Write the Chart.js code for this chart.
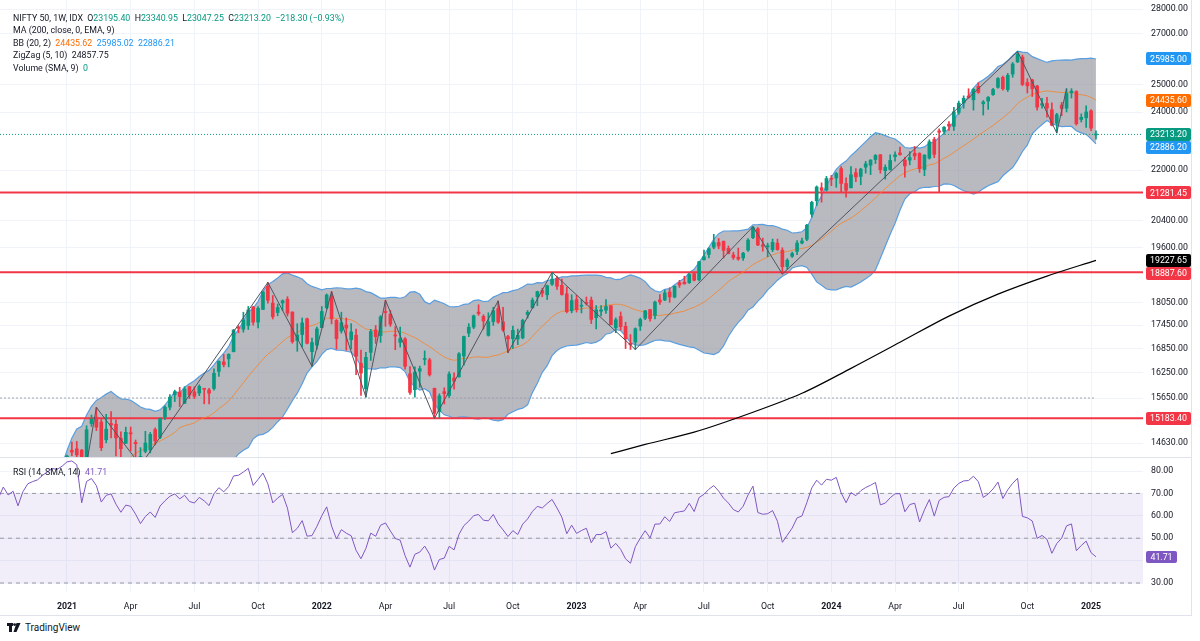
<!DOCTYPE html>
<html><head><meta charset="utf-8">
<script src="https://cdn.jsdelivr.net/npm/chart.js@4.4.1/dist/chart.umd.min.js"></script>
<style>
html,body{margin:0;padding:0;background:#fff;width:1200px;height:641px;overflow:hidden;font-family:Roboto,"Open Sans",sans-serif;}
#wrap{position:relative;width:1200px;height:641px;}
canvas{position:absolute;left:0;}
#pc{top:0;}
#rc{top:458px;}
.leg{position:absolute;left:13px;font-size:8.8px;color:#131722;white-space:nowrap;line-height:12.6px;}
.g{color:#089981}.r{color:#f23645}.o{color:#ff6d00}.b{color:#2196f3}.p{color:#7e57c2}
.ln{position:absolute;background:#e0e3eb;}
#logo{position:absolute;left:7px;top:622px;font-size:10px;color:#131722;display:flex;align-items:center;gap:4px;}
</style></head>
<body><div id="wrap">
<canvas id="pc" width="1200" height="457"></canvas>
<canvas id="rc" width="1200" height="158"></canvas>
<div class="ln" style="left:0;top:457px;width:1192px;height:1px"></div>
<div class="ln" style="left:1191px;top:0;width:1px;height:616px"></div>
<div class="ln" style="left:0;top:615px;width:1192px;height:1px"></div>
<div class="leg" id="legMain" style="top:11.5px"></div>
<div class="leg" id="legRsi" style="top:465.5px"></div>
<div id="logo"><svg width="14" height="9" viewBox="0 0 14 9"><rect x="0" y="0" width="6" height="3" fill="#131722"/><rect x="2" y="0" width="3" height="9" fill="#131722"/><circle cx="7.6" cy="1.6" r="1.4" fill="#131722"/><polygon points="9.5,0 13.5,0 9.5,9 6.5,9" fill="#131722"/></svg><span>TradingView</span></div>
</div>
<script>
// ---------------- DATA (weekly candles, week 0 = week of 4 Jan 2021) ----------------
const FIRST_WEEK = -31; // week of 1 Jun 2020
const opens = [
 9726,10326,9919,10319,10311,10723,10851,10999,11225,10947,11271,11248,11432,11778,11360,11540,11503,11140,11487,11973,11786,11937,11697,12399,12780,12906,13062,13265,13547,13865,13815,
 14104,14474,14505,14477,13758,15064,15208,15100,14702,15064,15049,14737,14628,14837,14644,14306,14449,14481,14928,14756,15211,15437,15725,15791,15525,15916,15794,15766,15877,15840,15874,16287,16518,16593,16775,17401,17347,17443,17932,17531,17867,18500,18035,17784,18040,18141,17796,17052,17209,17619,16774,16937,
 17388,17913,18236,17575,17301,17456,17076,17193,16481,15868,16757,17329,17181,17810,17740,17184,17009,17097,16227,15846,16290,16579,16570,15877,15335,15800,15710,16127,16152,16662,17243,17401,17797,17682,17188,17546,17890,17541,17156,17102,17095,17122,17736,17910,18211,18376,18262,18552,18719,18524,18289,17831,
 18131,17953,18034,18118,17650,17819,17847,17965,17383,17680,17421,16983,17016,17428,17635,17863,17707,18124,18121,18339,18201,18595,18612,18595,18849,18682,19246,19400,19612,19748,19784,19576,19384,19320,19298,19525,19891,20156,19678,19622,19539,19731,19521,19053,19346,19486,19731,19844,20602,21019,21434,21365,
 21727,21747,22053,21570,21433,21921,21800,22103,22169,22357,22517,21990,22028,22455,22579,22339,22337,22570,22561,22028,22405,23039,23337,23320,23570,23499,23987,24330,24586,24446,24944,24302,24400,24636,24908,25283,24823,25406,25872,26061,25085,25186,24956,24252,24315,24087,23605,24253,24140,24703,24753,23738,23797,
 24045,23195.40
];
const highs = [
 10177,10328,10272,10554,10632,10848,10934,11240,11342,11257,11373,11460,11687,11794,11493,11618,11535,11428,11939,12025,12018,11942,12280,12769,12964,13146,13280,13579,13773,13899,14024,
 14367,14653,14666,14491,15014,15257,15432,15176,15273,15336,15145,14877,14984,14985,14697,14531,14890,14864,14966,15189,15469,15733,15835,15901,15915,15925,15915,15962,15879,15881,16350,16544,16702,16722,17340,17437,17793,17947,17948,17941,18350,18604,18242,18012,18123,18210,17806,17490,17640,17639,17119,17400,
 17945,18286,18351,17600,17794,17640,17491,17352,16815,16757,17344,17442,17703,18115,17843,17414,17401,17132,16404,16400,16415,16793,16610,15886,15749,15891,16275,16249,16752,17172,17490,17719,17992,17727,17778,17925,18096,17920,17188,17429,17348,17608,17838,18176,18362,18443,18529,18888,18781,18697,18473,18265,
 18252,18141,18202,18202,17972,17972,18134,17973,17644,17800,17529,17207,17381,17638,17842,17864,18089,18267,18389,18458,18508,18663,18777,18865,18887,19201,19523,19595,19991,19867,19795,19645,19466,19584,19458,19867,20222,20196,19880,19730,19850,19849,19593,19276,19464,19805,19876,20292,21006,21492,21593,21801,
 21834,21929,22124,21751,22127,22053,22069,22297,22353,22526,22526,22181,22516,22619,22776,22428,22625,22795,22588,22526,23026,23111,23411,23490,23667,24174,24401,24592,24855,24862,25078,24419,24563,24867,25269,25334,25433,25849,26277,26135,25234,25212,24978,24498,24537,24336,23956,24354,24858,24857,24781,23938,24226,
 24089,23340.95
];
const lows = [
 9704,9544,9728,10194,10224,10676,10562,10918,10983,10882,11111,11248,11421,11303,11185,11414,10790,11055,11347,11661,11736,11535,11557,12367,12730,12790,12962,13217,13511,13132,13778,
 13954,14357,14222,13596,13661,15000,14906,14467,14635,14745,14350,14264,14617,14460,14248,14151,14417,14416,14592,14725,15152,15372,15566,15450,15525,15636,15636,15705,15514,15513,15834,16162,16396,16395,16765,17254,17269,17338,17452,17379,17864,18034,17613,17697,17836,17689,16985,16782,16892,16966,16410,16833,
 17384,17880,17485,16837,17244,16810,16839,16203,15711,15671,16555,16980,17006,17423,17420,16824,16889,16340,15736,15671,15903,16444,16172,15183,15191,15511,15661,15859,16143,16439,17154,17359,17710,17346,17167,17445,17497,17292,16748,16855,16950,17098,17637,17900,17969,18209,18133,18519,18410,18255,17775,17775,
 17796,17774,17981,17493,17353,17695,17762,17455,17255,17325,16850,16828,16828,17313,17597,17553,17612,17999,18102,18060,18178,18465,18556,18575,18647,18646,19234,19300,19562,19563,19296,19413,19254,19230,19223,19488,19865,19657,19492,19333,19480,19518,18837,18973,19309,19389,19704,19802,20508,20868,20977,21330,
 21500,21448,21286,21137,21430,21629,21530,21906,21860,22224,21905,21710,22004,22304,22503,21777,22181,22349,21932,21822,22372,22418,21281,23222,23350,23350,23920,24141,24508,24074,24686,23894,24099,24607,24874,24801,24753,25285,25848,24966,24694,24568,24073,24140,23816,23509,23263,23874,24008,24510,23537,23647,23460,
 23345,23047.25
];
const closes = [
 10142,9972,10244,10383,10607,10768,10902,11194,11073,11214,11178,11372,11647,11333,11464,11505,11050,11417,11914,11762,11930,11642,12264,12720,12859,12969,13258,13514,13761,13749,13982,
 14347,14433,14372,13635,14924,15163,14981,14529,14938,15031,14744,14507,14867,14834,14617,14341,14631,14823,14677,15175,15435,15670,15799,15683,15860,15722,15690,15924,15856,15763,16238,16529,16450,16705,17324,17369,17585,17853,17532,17895,18339,18115,17672,17917,18102,17765,17026,17197,17511,16985,17004,17354,
 17813,18256,17617,17102,17516,17375,17276,16658,16245,16630,17287,17153,17670,17784,17476,17172,17103,16411,15782,16266,16352,16584,16202,15294,15699,15752,16221,16049,16719,17158,17398,17698,17758,17559,17539,17833,17531,17327,17094,17315,17186,17576,17787,18117,18350,18308,18512,18697,18497,18269,17807,18105,
 17860,17956,18028,17604,17854,17856,17944,17466,17594,17413,17100,16945,17360,17600,17828,17624,18065,18069,18315,18203,18499,18534,18563,18826,18665,19189,19332,19565,19745,19646,19517,19428,19310,19266,19435,19820,20192,19674,19638,19654,19751,19542,19047,19231,19425,19732,19795,20268,20970,21457,21349,21731,
 21711,21895,21572,21353,21854,21783,22041,22213,22339,22494,22023,22097,22327,22514,22519,22147,22420,22476,22055,22502,22957,22531,23290,23465,23501,24011,24324,24502,24531,24835,24718,24367,24541,24823,25236,24852,25357,25791,26179,25015,24964,24854,24181,24304,24148,23532,23907,24131,24677,24768,23588,23813,24005,
 23431.50,23213.20
];
// 200-week EMA (week index, value)
const emaWeeks  = [111, 118, 128, 140, 150, 160, 170, 180, 190, 200, 210];
const emaValues = [14400, 14600, 14870, 15320, 15760, 16360, 17010, 17690, 18280, 18780, 19227.65];
// ZigZag pivots (week index, price)
const zzWeeks  = [3, 6, 15, 41, 50, 54, 61, 65, 75, 88, 90, 99, 116, 140, 146, 194, 202, 204];
const zzPrices = [13596, 15432, 14151, 18604, 16410, 18351, 15671, 18115, 15183, 18096, 16748, 18888, 16828, 20222, 18837, 26277, 23263, 24857.75];
// Horizontal levels
const levels = [21281.45, 18887.60, 15183.40];
// Legend / last-value readouts
const bbLast = {basis: 24435.62, upper: 25985.02, lower: 22886.21};
const ema200Last = 19227.65;
const zigzagLast = 24857.75;
const rsiLast = 41.71;
const refDotted = 15650;
// Time axis ticks
const tickWeeks  = [0, 13, 26, 39, 52, 65, 78, 91, 104, 117, 130, 143, 156, 169, 182, 196, 209];
const tickLabels = ['2021','Apr','Jul','Oct','2022','Apr','Jul','Oct','2023','Apr','Jul','Oct','2024','Apr','Jul','Oct','2025'];
const priceTicks = [28000, 27000, 25000, 24000, 22000, 20400, 19600, 18050, 17450, 16850, 16250, 15650, 14630];
const rsiTicks = [30, 40, 50, 60, 70, 80];

// ---------------- derived ----------------
const weeks = closes.map((_, i) => FIRST_WEEK + i);
const N = closes.length;
function bollinger(src, len, mult) {
  const basis = [], upper = [], lower = [];
  for (let i = 0; i < src.length; i++) {
    if (i < len - 1) { basis.push(null); upper.push(null); lower.push(null); continue; }
    let s = 0; for (let k = i - len + 1; k <= i; k++) s += src[k];
    const m = s / len; let v = 0;
    for (let k = i - len + 1; k <= i; k++) v += (src[k] - m) ** 2;
    const sd = Math.sqrt(v / len);
    basis.push(m); upper.push(m + mult * sd); lower.push(m - mult * sd);
  }
  return {basis, upper, lower};
}
function rsiCalc(src, len) {
  const out = [null]; let au = 0, ad = 0;
  for (let i = 1; i < src.length; i++) {
    const ch = src[i] - src[i - 1], u = Math.max(ch, 0), d = Math.max(-ch, 0);
    if (i <= len) { au += u; ad += d; if (i < len) { out.push(null); continue; } au /= len; ad /= len; }
    else { au = (au * (len - 1) + u) / len; ad = (ad * (len - 1) + d) / len; }
    out.push(ad === 0 ? 100 : 100 - 100 / (1 + au / ad));
  }
  return out;
}
const bb = bollinger(closes, 20, 2);
const rsi = rsiCalc(closes, 14);

// ---------------- styling ----------------
const GREEN = '#089981', RED = '#f23645', TXT = '#131722', GRID = '#f0f3fa';
const FONT = 'Roboto';
const FS = 8.8;
const X_MIN = -13.67, X_MAX = 219.6;
const PRICE_MAX = Math.exp(6855.5 / 668.6), PRICE_MIN = Math.exp((6855.5 - 457) / 668.6);
const candleColors = closes.map((c, i) => c >= opens[i] ? GREEN : RED);
const xy = (xs, ys) => xs.map((x, i) => ({x, y: ys[i]}));
const hline = v => [{x: X_MIN, y: v}, {x: X_MAX, y: v}];
Chart.defaults.font.family = FONT;
Chart.defaults.animation = false;
Chart.defaults.events = [];

function xScale(showLabels) {
  return {
    type: 'linear', min: X_MIN, max: X_MAX, offset: false,
    afterBuildTicks: s => { s.ticks = tickWeeks.map(v => ({value: v})); },
    grid: {color: GRID, drawTicks: false, offset: false},
    border: {display: false},
    ticks: {
      display: showLabels, autoSkip: false, maxRotation: 0, padding: 10, color: TXT,
      callback: (v) => { const k = tickWeeks.indexOf(v); return k >= 0 ? tickLabels[k] : ''; },
      font: (ctx) => ({family: FONT, size: FS, weight: (ctx.index !== undefined && tickLabels[ctx.index] && tickLabels[ctx.index].length === 4) ? 'bold' : 'normal'})
    },
    afterFit: s => { s.height = showLabels ? 24 : 0; s.paddingLeft = 0; s.paddingRight = 0; }
  };
}

function drawTags(chart, items, boxW, boxH) {
  const ctx = chart.ctx, ys = chart.scales.y;
  const list = items.map(t => ({...t, py: ys.getPixelForValue(t.value)})).sort((a, b) => a.py - b.py);
  let prev = -1e9;
  ctx.save();
  ctx.font = FS + 'px ' + FONT; ctx.textAlign = 'center'; ctx.textBaseline = 'middle';
  list.forEach(t => {
    let y = Math.max(t.py, prev + boxH);
    prev = y;
    const x = chart.chartArea.right + 3;
    ctx.fillStyle = t.bg;
    ctx.beginPath(); ctx.roundRect(x, Math.round(y - boxH / 2), boxW, boxH, 2); ctx.fill();
    ctx.fillStyle = '#ffffff';
    ctx.fillText(t.text, x + boxW / 2, Math.round(y) + 0.5);
  });
  ctx.restore();
}

const priceTagPlugin = {
  id: 'priceTags',
  afterDraw(chart) {
    drawTags(chart, [
      {value: bbLast.upper, text: (Math.round(bbLast.upper / 0.05) * 0.05).toFixed(2), bg: '#2196f3'},
      {value: bbLast.basis, text: (Math.round(bbLast.basis / 0.05) * 0.05).toFixed(2), bg: '#ff6d00'},
      {value: closes[N - 1], text: closes[N - 1].toFixed(2), bg: GREEN},
      {value: bbLast.lower, text: (Math.round(bbLast.lower / 0.05) * 0.05).toFixed(2), bg: '#2196f3'},
      {value: levels[0], text: levels[0].toFixed(2), bg: RED},
      {value: ema200Last, text: ema200Last.toFixed(2), bg: '#000000'},
      {value: levels[1], text: levels[1].toFixed(2), bg: RED},
      {value: levels[2], text: levels[2].toFixed(2), bg: RED}
    ], 45, 13);
  }
};
const rsiTagPlugin = {
  id: 'rsiTag',
  afterDraw(chart) { drawTags(chart, [{value: rsiLast, text: rsiLast.toFixed(2), bg: '#7e57c2'}], 31, 12); }
};

const lineDs = (data, color, width, order, extra) => Object.assign({
  type: 'line', data, borderColor: color, borderWidth: width, pointRadius: 0, fill: false, order, tension: 0, spanGaps: true
}, extra || {});

new Chart(document.getElementById('pc'), {
  type: 'line',
  data: {datasets: [
    lineDs(xy(weeks, bb.upper), '#5a9ee0', 1.2, 20, {fill: 1, backgroundColor: 'rgba(120,123,134,0.52)'}),
    lineDs(xy(weeks, bb.lower), '#5a9ee0', 1.2, 19),
    lineDs(hline(levels[0]), RED, 2, 12),
    lineDs(hline(levels[1]), RED, 2, 12),
    lineDs(hline(levels[2]), RED, 2, 12),
    lineDs([{x: X_MIN, y: refDotted}, {x: weeks[N - 1], y: refDotted}], '#a0a3ab', 1, 14, {borderDash: [2, 2]}),
    lineDs(hline(closes[N - 1]), GREEN, 1, 13, {borderDash: [1, 2]}),
    lineDs(xy(weeks, bb.basis), 'rgba(242,134,48,0.85)', 1, 11),
    {type: 'bar', data: weeks.map((w, i) => ({x: w, y: [lows[i], highs[i]]})), backgroundColor: candleColors, barThickness: 1, grouped: false, order: 6},
    {type: 'bar', data: weeks.map((w, i) => ({x: w, y: [opens[i], closes[i]]})), backgroundColor: candleColors, barThickness: 3, grouped: false, minBarLength: 1, order: 5},
    lineDs(xy(zzWeeks, zzPrices), '#50535e', 1, 3),
    lineDs(xy(emaWeeks, emaValues), '#000000', 1.2, 2, {cubicInterpolationMode: 'monotone'})
  ]},
  options: {
    responsive: false, maintainAspectRatio: false,
    layout: {padding: 0},
    plugins: {legend: {display: false}, tooltip: {enabled: false}},
    scales: {
      x: xScale(false),
      y: {
        type: 'logarithmic', position: 'right', min: PRICE_MIN, max: PRICE_MAX,
        afterBuildTicks: s => { s.ticks = priceTicks.map(v => ({value: v})); },
        grid: {color: GRID, drawTicks: false},
        border: {display: false},
        ticks: {autoSkip: false, padding: 8, color: TXT, font: {family: FONT, size: FS}, callback: v => Number(v).toFixed(2)},
        afterFit: s => { s.width = 57; s.paddingTop = 0; s.paddingBottom = 0; }
      }
    }
  },
  plugins: [priceTagPlugin]
});

const RSI_MAX = 80 + 13 / 2.24, RSI_MIN = RSI_MAX - 134 / 2.24;
new Chart(document.getElementById('rc'), {
  type: 'line',
  data: {datasets: [
    lineDs(hline(70), '#9598a1', 1, 10, {borderDash: [4, 4], fill: 1, backgroundColor: 'rgba(126,87,194,0.1)'}),
    lineDs(hline(30), '#9598a1', 1, 9, {borderDash: [4, 4]}),
    lineDs(hline(50), '#9598a1', 1, 8, {borderDash: [4, 4]}),
    lineDs(xy(weeks, rsi), '#7e57c2', 1, 1)
  ]},
  options: {
    responsive: false, maintainAspectRatio: false,
    layout: {padding: 0},
    plugins: {legend: {display: false}, tooltip: {enabled: false}},
    scales: {
      x: xScale(true),
      y: {
        type: 'linear', position: 'right', min: RSI_MIN, max: RSI_MAX,
        afterBuildTicks: s => { s.ticks = rsiTicks.map(v => ({value: v})); },
        grid: {color: GRID, drawTicks: false},
        border: {display: false},
        ticks: {autoSkip: false, padding: 8, color: TXT, font: {family: FONT, size: FS},
          callback: v => Math.abs(v - rsiLast) < 4 ? '' : Number(v).toFixed(2)},
        afterFit: s => { s.width = 57; s.paddingTop = 0; s.paddingBottom = 0; }
      }
    }
  },
  plugins: [rsiTagPlugin]
});

// ---------------- legends (real text) ----------------
const last = N - 1, chg = closes[last] - closes[last - 1], pct = chg / closes[last - 1] * 100;
const f2 = v => v.toFixed(2), sgn = v => (v < 0 ? '\u2212' : '+') + Math.abs(v).toFixed(2);
const cc = closes[last] >= opens[last] ? 'g' : 'r';
document.getElementById('legMain').innerHTML =
  `<div>NIFTY 50, 1W, IDX&nbsp; O<span class="${cc}">${f2(opens[last])}</span>&nbsp; H<span class="${cc}">${f2(highs[last])}</span>&nbsp; L<span class="${cc}">${f2(lows[last])}</span>&nbsp; C<span class="${cc}">${f2(closes[last])}</span>&nbsp; <span class="${cc}">${sgn(chg)} (${sgn(pct)}%)</span></div>` +
  `<div>MA (200, close, 0, EMA, 9)</div>` +
  `<div>BB (20, 2)&nbsp; <span class="o">${f2(bbLast.basis)}</span>&nbsp; <span class="b">${f2(bbLast.upper)}</span>&nbsp; <span class="b">${f2(bbLast.lower)}</span></div>` +
  `<div>ZigZag (5, 10)&nbsp; ${f2(zigzagLast)}</div>` +
  `<div>Volume (SMA, 9)&nbsp; <span class="g">0</span></div>`;
document.getElementById('legRsi').innerHTML = `RSI (14, SMA, 14)&nbsp; <span class="p">${f2(rsiLast)}</span>`;
</script>
</body></html>
